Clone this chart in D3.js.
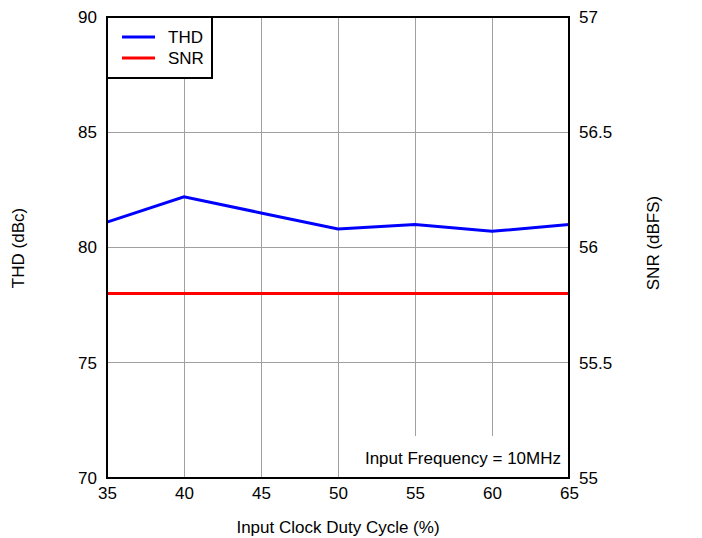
<!DOCTYPE html>
<html>
<head>
<meta charset="utf-8">
<script src="https://cdn.jsdelivr.net/npm/d3@7"></script>
<style>
body { margin: 0; background: #fff; }
text { font-family: "Liberation Sans", Arial, sans-serif; fill: #000; }
</style>
</head>
<body>
<svg id="chart" width="702" height="538"></svg>
<script>
const dutyCycle = [35, 40, 45, 50, 55, 60, 65];
const thdValues = [81.1, 82.2, 81.5, 80.8, 81.0, 80.7, 81.0];
const snrValues = [55.8, 55.8, 55.8, 55.8, 55.8, 55.8, 55.8];
const xTicks = [35, 40, 45, 50, 55, 60, 65];
const thdTicks = [70, 75, 80, 85, 90];
const snrTicks = [55, 55.5, 56, 56.5, 57];
const snrTickLabels = ["55", "55.5", "56", "56.5", "57"];

const FS = 17;
const svg = d3.select("#chart");
const m = { left: 107, right: 569, top: 17, bottom: 478 };
const x = d3.scaleLinear().domain([35, 65]).range([m.left, m.right]);
const yL = d3.scaleLinear().domain([70, 90]).range([m.bottom, m.top]);
const yR = d3.scaleLinear().domain([55, 57]).range([m.bottom, m.top]);

// grid
const grid = svg.append("g");
xTicks.slice(1, -1).forEach(t => {
  grid.append("line").attr("x1", x(t)).attr("x2", x(t)).attr("y1", m.top).attr("y2", m.bottom)
    .attr("stroke", "#a0a0a0").attr("stroke-width", 1).attr("shape-rendering", "crispEdges");
});
thdTicks.slice(1, -1).forEach(t => {
  grid.append("line").attr("x1", m.left).attr("x2", m.right).attr("y1", yL(t)).attr("y2", yL(t))
    .attr("stroke", "#a0a0a0").attr("stroke-width", 1).attr("shape-rendering", "crispEdges");
});

// annotation box (white background)
svg.append("rect").attr("x", 356).attr("y", 436).attr("width", m.right - 356).attr("height", m.bottom - 436)
  .attr("fill", "#fff");
svg.append("text").attr("x", 561).attr("y", 464).attr("text-anchor", "end")
  .attr("font-size", FS).text("Input Frequency = 10MHz");

// lines
const lineThd = d3.line().x((d, i) => x(dutyCycle[i])).y(d => yL(d));
const lineSnr = d3.line().x((d, i) => x(dutyCycle[i])).y(d => yR(d));
svg.append("path").datum(snrValues).attr("d", lineSnr).attr("fill", "none")
  .attr("stroke", "#ff0000").attr("stroke-width", 3);
svg.append("path").datum(thdValues).attr("d", lineThd).attr("fill", "none")
  .attr("stroke", "#0000ff").attr("stroke-width", 3);

// frame
svg.append("rect").attr("x", m.left).attr("y", m.top).attr("width", m.right - m.left).attr("height", m.bottom - m.top)
  .attr("fill", "none").attr("stroke", "#000").attr("stroke-width", 2);

// axes
const xAxis = d3.axisBottom(x).tickValues(xTicks).tickSize(0).tickPadding(0).tickFormat(d3.format("d"));
const gx = svg.append("g").attr("transform", `translate(0,${m.bottom})`).call(xAxis);
gx.select(".domain").remove();
gx.selectAll("text").attr("dy", null).attr("y", 20.5).attr("font-size", FS)
  .attr("font-family", "Liberation Sans, Arial, sans-serif").attr("fill", "#000");

const yAxisL = d3.axisLeft(yL).tickValues(thdTicks).tickSize(0).tickPadding(10).tickFormat(d3.format("d"));
const gyl = svg.append("g").attr("transform", `translate(${m.left},0)`).call(yAxisL);
gyl.select(".domain").remove();
gyl.selectAll("text").attr("font-size", FS).attr("font-family", "Liberation Sans, Arial, sans-serif").attr("fill", "#000");

const yAxisR = d3.axisRight(yR).tickValues(snrTicks).tickSize(0).tickPadding(10)
  .tickFormat((d, i) => snrTickLabels[i]);
const gyr = svg.append("g").attr("transform", `translate(${m.right},0)`).call(yAxisR);
gyr.select(".domain").remove();
gyr.selectAll("text").attr("font-size", FS).attr("font-family", "Liberation Sans, Arial, sans-serif").attr("fill", "#000");

// titles
svg.append("text").attr("x", 338).attr("y", 533).attr("text-anchor", "middle").attr("font-size", FS)
  .text("Input Clock Duty Cycle (%)");
svg.append("text").attr("transform", "translate(24,248) rotate(-90)").attr("text-anchor", "middle").attr("font-size", FS)
  .text("THD (dBc)");
svg.append("text").attr("transform", "translate(659,243) rotate(-90)").attr("text-anchor", "middle").attr("font-size", FS)
  .text("SNR (dBFS)");

// legend
const lg = svg.append("g");
lg.append("rect").attr("x", m.left).attr("y", m.top).attr("width", 105).attr("height", 61)
  .attr("fill", "#fff").attr("stroke", "#000").attr("stroke-width", 2);
const legendItems = [{ name: "THD", color: "#0000ff" }, { name: "SNR", color: "#ff0000" }];
legendItems.forEach((d, i) => {
  const yy = 37 + i * 21;
  lg.append("line").attr("x1", 122).attr("x2", 155).attr("y1", yy).attr("y2", yy)
    .attr("stroke", d.color).attr("stroke-width", 3);
  lg.append("text").attr("x", 168).attr("y", yy + 6).attr("font-size", FS).text(d.name);
});
</script>
</body>
</html>
